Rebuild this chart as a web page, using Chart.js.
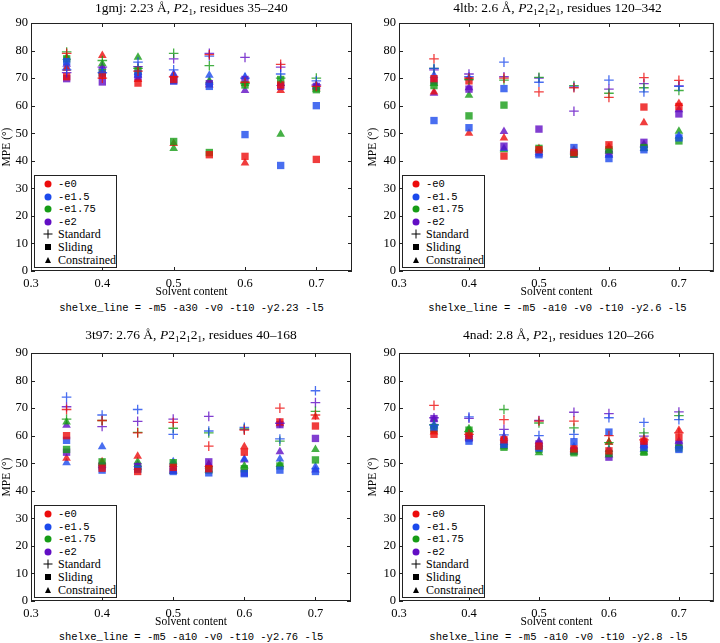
<!DOCTYPE html>
<html>
<head>
<meta charset="utf-8">
<script src="https://cdn.jsdelivr.net/npm/chart.js@4/dist/chart.umd.min.js"></script>
<style>
  body { margin: 0; background: #fff; width: 720px; height: 643px; position: relative; overflow: hidden; font-family: "Liberation Serif", serif; }
  .panel { position: absolute; width: 360px; height: 323px; }
  .panel canvas { position: absolute; left: 0; top: 0; }
  .titulo { position: absolute; font-size: 13.5px; color: #000; white-space: nowrap; transform: translate(-50%, -50%); }
  .titulo sub { font-size: 9px; vertical-align: -3px; line-height: 0; }
  .linea { position: absolute; font-family: "Liberation Mono", monospace; font-size: 10.5px; color: #000; white-space: nowrap; transform: translate(-50%, -50%); }
  .leyenda { position: absolute; width: 83px; height: 93px; border: 1px solid #222; background: #fff; box-sizing: border-box; }
  .fila { position: absolute; left: 0; height: 12px; width: 81px; }
  .fila span.txt { position: absolute; left: 23px; top: 50%; transform: translateY(-50%); white-space: nowrap; }
  .mono { font-family: "Liberation Mono", monospace; font-size: 10.5px; }
  .serif { font-family: "Liberation Serif", serif; font-size: 12px; }
  .mk { position: absolute; left: 13px; top: 50%; transform: translate(-50%, -50%); }
</style>
</head>
<body>

<script>
// Datos: contenido de solvente (eje x) y ticks
const solvente = [0.35, 0.4, 0.45, 0.5, 0.55, 0.6, 0.65, 0.7];
const xTickVals = [0.3, 0.4, 0.5, 0.6, 0.7];
const yTickVals = [0, 10, 20, 30, 40, 50, 60, 70, 80, 90];
const etiquetasE = ['-e0', '-e1.5', '-e1.75', '-e2'];
const metodos = ['Standard', 'Sliding', 'Constrained'];

// 1gmj
const p1StdE0   = [79.0, 70.0, 72.5, 70.5, 78.5, 68.5, 75.0, 67.0];
const p1StdE15  = [73.0, 72.0, 75.8, 73.0, 78.0, 70.0, 71.5, 69.0];
const p1StdE175 = [79.5, 76.4, 73.5, 79.0, 74.5, 68.0, 70.0, 70.0];
const p1StdE2   = [72.0, 74.0, 74.2, 77.0, 79.0, 77.5, 74.0, 67.5];
const p1SldE0   = [70.5, 71.0, 68.2, 69.5, 42.2, 41.6, 67.5, 40.5];
const p1SldE15  = [76.0, 71.5, 71.6, 69.0, 67.0, 49.5, 38.3, 60.0];
const p1SldE175 = [77.0, 72.0, 73.0, 47.0, 43.0, 67.5, 69.5, 65.8];
const p1SldE2   = [69.8, 68.6, 70.5, 69.0, 68.0, 69.5, 67.0, 67.0];
const p1ConE0   = [73.5, 78.2, 69.5, 46.3, 67.5, 39.2, 65.5, 66.5];
const p1ConE15  = [74.0, 72.5, 72.0, 71.0, 71.0, 70.5, 68.0, 67.5];
const p1ConE175 = [77.5, 75.2, 77.6, 44.5, 69.0, 68.0, 49.6, 66.0];
const p1ConE2   = [75.0, 74.0, 71.0, 71.5, 68.5, 65.5, 68.0, 67.0];

// 4ltb
const p2StdE0   = [77.0, 70.0, 70.0, 65.0, 66.5, 63.0, 70.2, 69.2];
const p2StdE15  = [73.5, 70.5, 75.8, 68.5, 66.8, 69.3, 65.0, 67.0];
const p2StdE175 = [73.5, 69.5, 69.3, 70.3, 67.3, 64.5, 66.5, 65.5];
const p2StdE2   = [73.0, 71.5, 70.5, 70.0, 58.0, 66.0, 68.0, 67.2];
const p2SldE0   = [69.8, 69.0, 41.7, 44.0, 43.0, 45.8, 59.5, 59.7];
const p2SldE15  = [54.6, 52.0, 66.2, 42.2, 44.8, 40.8, 44.0, 48.3];
const p2SldE175 = [67.3, 56.3, 60.2, 44.5, 42.5, 44.0, 44.8, 47.2];
const p2SldE2   = [69.0, 66.0, 45.3, 51.5, 42.5, 42.5, 46.7, 57.0];
const p2ConE0   = [65.0, 50.0, 48.3, 44.5, 44.0, 45.0, 53.8, 60.8];
const p2ConE15  = [71.0, 70.0, 44.5, 43.0, 42.0, 42.0, 44.5, 49.0];
const p2ConE175 = [68.0, 63.8, 44.0, 44.0, 43.0, 43.5, 45.5, 50.7];
const p2ConE2   = [64.5, 66.5, 50.6, 42.5, 43.5, 44.0, 46.0, 58.5];

// 3t97
const p3StdE0   = [69.5, 65.5, 61.0, 64.8, 56.2, 62.0, 70.0, 67.5];
const p3StdE15  = [74.0, 67.5, 69.5, 60.5, 61.7, 63.0, 58.8, 76.3];
const p3StdE175 = [66.0, 65.5, 61.2, 62.7, 61.0, 62.5, 58.0, 68.8];
const p3StdE2   = [70.5, 63.3, 65.2, 66.0, 67.0, 62.3, 64.5, 72.0];
const p3SldE0   = [60.0, 48.2, 47.0, 48.5, 48.0, 54.0, 65.0, 63.5];
const p3SldE15  = [58.3, 47.5, 47.8, 47.0, 46.5, 46.2, 47.5, 47.0];
const p3SldE175 = [55.0, 50.5, 48.0, 50.2, 47.5, 48.0, 49.0, 51.2];
const p3SldE2   = [54.0, 49.0, 48.8, 47.5, 50.5, 46.5, 64.0, 59.0];
const p3ConE0   = [51.8, 50.5, 52.5, 47.5, 49.5, 56.0, 64.3, 66.8];
const p3ConE15  = [50.2, 56.0, 48.5, 50.5, 49.5, 51.5, 51.5, 48.7];
const p3ConE175 = [65.0, 49.8, 50.5, 47.0, 47.5, 49.0, 49.5, 55.0];
const p3ConE2   = [63.8, 49.2, 49.5, 49.5, 49.0, 51.2, 54.2, 47.5];

// 4nad
const p4StdE0   = [71.0, 60.5, 65.8, 65.3, 65.3, 60.0, 58.5, 61.0];
const p4StdE15  = [63.8, 66.8, 60.3, 60.0, 60.5, 66.5, 64.8, 65.8];
const p4StdE175 = [64.0, 61.5, 69.5, 64.6, 62.8, 57.5, 61.0, 67.3];
const p4StdE2   = [66.5, 66.3, 62.3, 65.5, 68.5, 68.0, 59.8, 68.6];
const p4SldE0   = [60.5, 60.0, 58.5, 56.2, 55.2, 54.5, 58.0, 59.5];
const p4SldE15  = [63.0, 58.0, 56.8, 55.5, 57.8, 61.3, 55.8, 55.0];
const p4SldE175 = [62.5, 62.0, 55.8, 55.0, 53.8, 53.5, 54.0, 55.5];
const p4SldE2   = [66.2, 59.0, 57.0, 57.0, 54.5, 52.2, 56.5, 57.0];
const p4ConE0   = [61.3, 59.0, 59.0, 57.0, 55.0, 57.6, 58.5, 62.0];
const p4ConE15  = [64.0, 59.5, 57.5, 56.0, 56.0, 55.0, 55.0, 56.0];
const p4ConE175 = [63.5, 62.5, 56.0, 53.8, 54.0, 57.6, 54.0, 56.5];
const p4ConE2   = [66.0, 60.5, 59.5, 58.0, 54.5, 53.0, 56.5, 58.0];

// Colores por valor de -e
const colores = ['rgba(236,12,12,0.8)', 'rgba(28,74,236,0.8)', 'rgba(22,156,22,0.8)', 'rgba(98,14,196,0.8)'];
const coloresLeyenda = ['rgb(236,12,12)', 'rgb(28,74,236)', 'rgb(22,156,22)', 'rgb(98,14,196)'];

// Paneles: posición en la página y área de trazado dentro de su canvas
const paneles = [
  { left: 0,   top: 0,   w: 360, h: 300, area: { l: 31, t: 23, r: 352, b: 271 }, tituloY: 8,
    titulo: '1gmj: 2.23 Å, <i>P</i>2<sub>1</sub>, residues 35–240',
    linea: 'shelxe_line = -m5 -a30 -v0 -t10 -y2.23 -l5', lineaY: 308,
    series: [[p1StdE0, p1StdE15, p1StdE175, p1StdE2], [p1SldE0, p1SldE15, p1SldE175, p1SldE2], [p1ConE0, p1ConE15, p1ConE175, p1ConE2]] },
  { left: 360, top: 0,   w: 360, h: 300, area: { l: 39, t: 23, r: 356, b: 271 }, tituloY: 8,
    titulo: '4ltb: 2.6 Å, <i>P</i>2<sub>1</sub>2<sub>1</sub>2<sub>1</sub>, residues 120–342',
    linea: 'shelxe_line = -m5 -a10 -v0 -t10 -y2.6 -l5', lineaY: 308,
    series: [[p2StdE0, p2StdE15, p2StdE175, p2StdE2], [p2SldE0, p2SldE15, p2SldE175, p2SldE2], [p2ConE0, p2ConE15, p2ConE175, p2ConE2]] },
  { left: 0,   top: 320, w: 360, h: 310, area: { l: 31, t: 33, r: 351, b: 281 }, tituloY: 15,
    titulo: '3t97: 2.76 Å, <i>P</i>2<sub>1</sub>2<sub>1</sub>2<sub>1</sub>, residues 40–168',
    linea: 'shelxe_line = -m5 -a10 -v0 -t10 -y2.76 -l5', lineaY: 317,
    series: [[p3StdE0, p3StdE15, p3StdE175, p3StdE2], [p3SldE0, p3SldE15, p3SldE175, p3SldE2], [p3ConE0, p3ConE15, p3ConE175, p3ConE2]] },
  { left: 360, top: 320, w: 360, h: 310, area: { l: 39, t: 33, r: 358, b: 281 }, tituloY: 15,
    titulo: '4nad: 2.8 Å, <i>P</i>2<sub>1</sub>, residues 120–266',
    linea: 'shelxe_line = -m5 -a10 -v0 -t10 -y2.8 -l5', lineaY: 317,
    series: [[p4StdE0, p4StdE15, p4StdE175, p4StdE2], [p4SldE0, p4SldE15, p4SldE175, p4SldE2], [p4ConE0, p4ConE15, p4ConE175, p4ConE2]] }
];

const estilosPunto = ['cross', 'rect', 'triangle'];
const radios = [4.8, 5.2, 5];

// Marco en los cuatro lados y ticks hacia dentro (estilo matplotlib)
const marcoTicks = {
  id: 'marcoTicks',
  afterDraw(chart) {
    const { ctx, chartArea: a, scales: { x, y } } = chart;
    ctx.save();
    ctx.strokeStyle = '#222';
    ctx.lineWidth = 1;
    ctx.strokeRect(a.left + 0.5, a.top + 0.5, a.right - a.left - 1, a.bottom - a.top - 1);
    ctx.beginPath();
    xTickVals.forEach(v => {
      const px = Math.round(x.getPixelForValue(v)) + 0.5;
      ctx.moveTo(px, a.bottom); ctx.lineTo(px, a.bottom - 4);
      ctx.moveTo(px, a.top); ctx.lineTo(px, a.top + 4);
    });
    yTickVals.forEach(v => {
      const py = Math.round(y.getPixelForValue(v)) + 0.5;
      ctx.moveTo(a.left, py); ctx.lineTo(a.left + 4, py);
      ctx.moveTo(a.right, py); ctx.lineTo(a.right - 4, py);
    });
    ctx.stroke();
    ctx.restore();
  }
};

function crearLeyenda(cont, p) {
  const ley = document.createElement('div');
  ley.className = 'leyenda';
  ley.style.left = (p.area.l + 3) + 'px';
  ley.style.top = (p.area.b - 3 - 93) + 'px';
  const filas = [];
  etiquetasE.forEach((t, i) => filas.push({ txt: t, cls: 'mono', mk: 'circulo', color: coloresLeyenda[i] }));
  metodos.forEach((t, i) => filas.push({ txt: t, cls: 'serif', mk: estilosPunto[i], color: '#000' }));
  filas.forEach((f, i) => {
    const fila = document.createElement('div');
    fila.className = 'fila';
    fila.style.top = (2 + i * 12.6) + 'px';
    const mk = document.createElement('span');
    mk.className = 'mk';
    if (f.mk === 'circulo') {
      mk.style.cssText += 'width:7px;height:7px;border-radius:50%;background:' + f.color;
    } else if (f.mk === 'cross') {
      mk.style.cssText += 'width:9px;height:9px;background:linear-gradient(#000,#000) center/1.3px 9px no-repeat,linear-gradient(#000,#000) center/9px 1.3px no-repeat';
    } else if (f.mk === 'rect') {
      mk.style.cssText += 'width:6px;height:6px;background:#000';
    } else {
      mk.style.cssText += 'width:0;height:0;border-left:3.5px solid transparent;border-right:3.5px solid transparent;border-bottom:6px solid #000';
    }
    const txt = document.createElement('span');
    txt.className = 'txt ' + f.cls;
    txt.textContent = f.txt;
    fila.appendChild(mk);
    fila.appendChild(txt);
    ley.appendChild(fila);
  });
  cont.appendChild(ley);
}

paneles.forEach((p, k) => {
  const cont = document.createElement('div');
  cont.className = 'panel';
  cont.style.left = p.left + 'px';
  cont.style.top = p.top + 'px';
  document.body.appendChild(cont);

  const lienzo = document.createElement('canvas');
  lienzo.width = p.w; lienzo.height = p.h;
  lienzo.style.width = p.w + 'px'; lienzo.style.height = p.h + 'px';
  cont.appendChild(lienzo);

  const cx = (p.area.l + p.area.r) / 2;
  const tit = document.createElement('div');
  tit.className = 'titulo';
  tit.innerHTML = p.titulo;
  tit.style.left = cx + 'px';
  tit.style.top = p.tituloY + 'px';
  cont.appendChild(tit);

  const lin = document.createElement('div');
  lin.className = 'linea';
  lin.textContent = p.linea;
  lin.style.left = cx + 'px';
  lin.style.top = p.lineaY + 'px';
  cont.appendChild(lin);

  // Conjuntos de datos: método x valor de -e
  const datasets = [];
  p.series.forEach((grupo, m) => {
    grupo.forEach((valores, e) => {
      datasets.push({
        label: metodos[m] + ' ' + etiquetasE[e],
        data: valores.map((v, i) => ({ x: solvente[i], y: v })),
        pointStyle: estilosPunto[m],
        pointRadius: radios[m],
        pointHoverRadius: radios[m],
        backgroundColor: colores[e],
        borderColor: colores[e],
        borderWidth: m === 0 ? 1.3 : 0
      });
    });
  });

  const anchoY = p.area.l;
  const altoX = p.h - p.area.b;

  new Chart(lienzo.getContext('2d'), {
    type: 'scatter',
    data: { datasets },
    options: {
      responsive: false,
      animation: false,
      events: [],
      layout: { padding: { left: 0, top: p.area.t, right: p.w - p.area.r, bottom: 0 } },
      plugins: { legend: { display: false }, tooltip: { enabled: false } },
      scales: {
        x: {
          type: 'linear', min: 0.3, max: 0.75,
          afterBuildTicks: s => { s.ticks = xTickVals.map(v => ({ value: v })); },
          afterFit: s => { s.height = altoX; },
          grid: { display: false, drawTicks: false },
          border: { display: false },
          ticks: { padding: 5, color: '#000', font: { family: 'Liberation Serif', size: 12.5 }, callback: v => Number(v).toFixed(1) },
          title: { display: true, text: 'Solvent content', color: '#000', padding: { top: 0, bottom: 1 }, font: { family: 'Liberation Serif', size: 11.5 } }
        },
        y: {
          type: 'linear', min: 0, max: 90,
          afterBuildTicks: s => { s.ticks = yTickVals.map(v => ({ value: v })); },
          afterFit: s => { s.width = anchoY; },
          grid: { display: false, drawTicks: false },
          border: { display: false },
          ticks: { padding: 3, color: '#000', font: { family: 'Liberation Serif', size: 12.5 }, callback: v => String(v) },
          title: { display: true, text: 'MPE (°)', color: '#000', padding: { top: k % 2 ? 6 : 0, bottom: 0 }, font: { family: 'Liberation Serif', size: 11.5 } }
        }
      }
    },
    plugins: [marcoTicks]
  });

  crearLeyenda(cont, p);
});
</script>
</body>
</html>
